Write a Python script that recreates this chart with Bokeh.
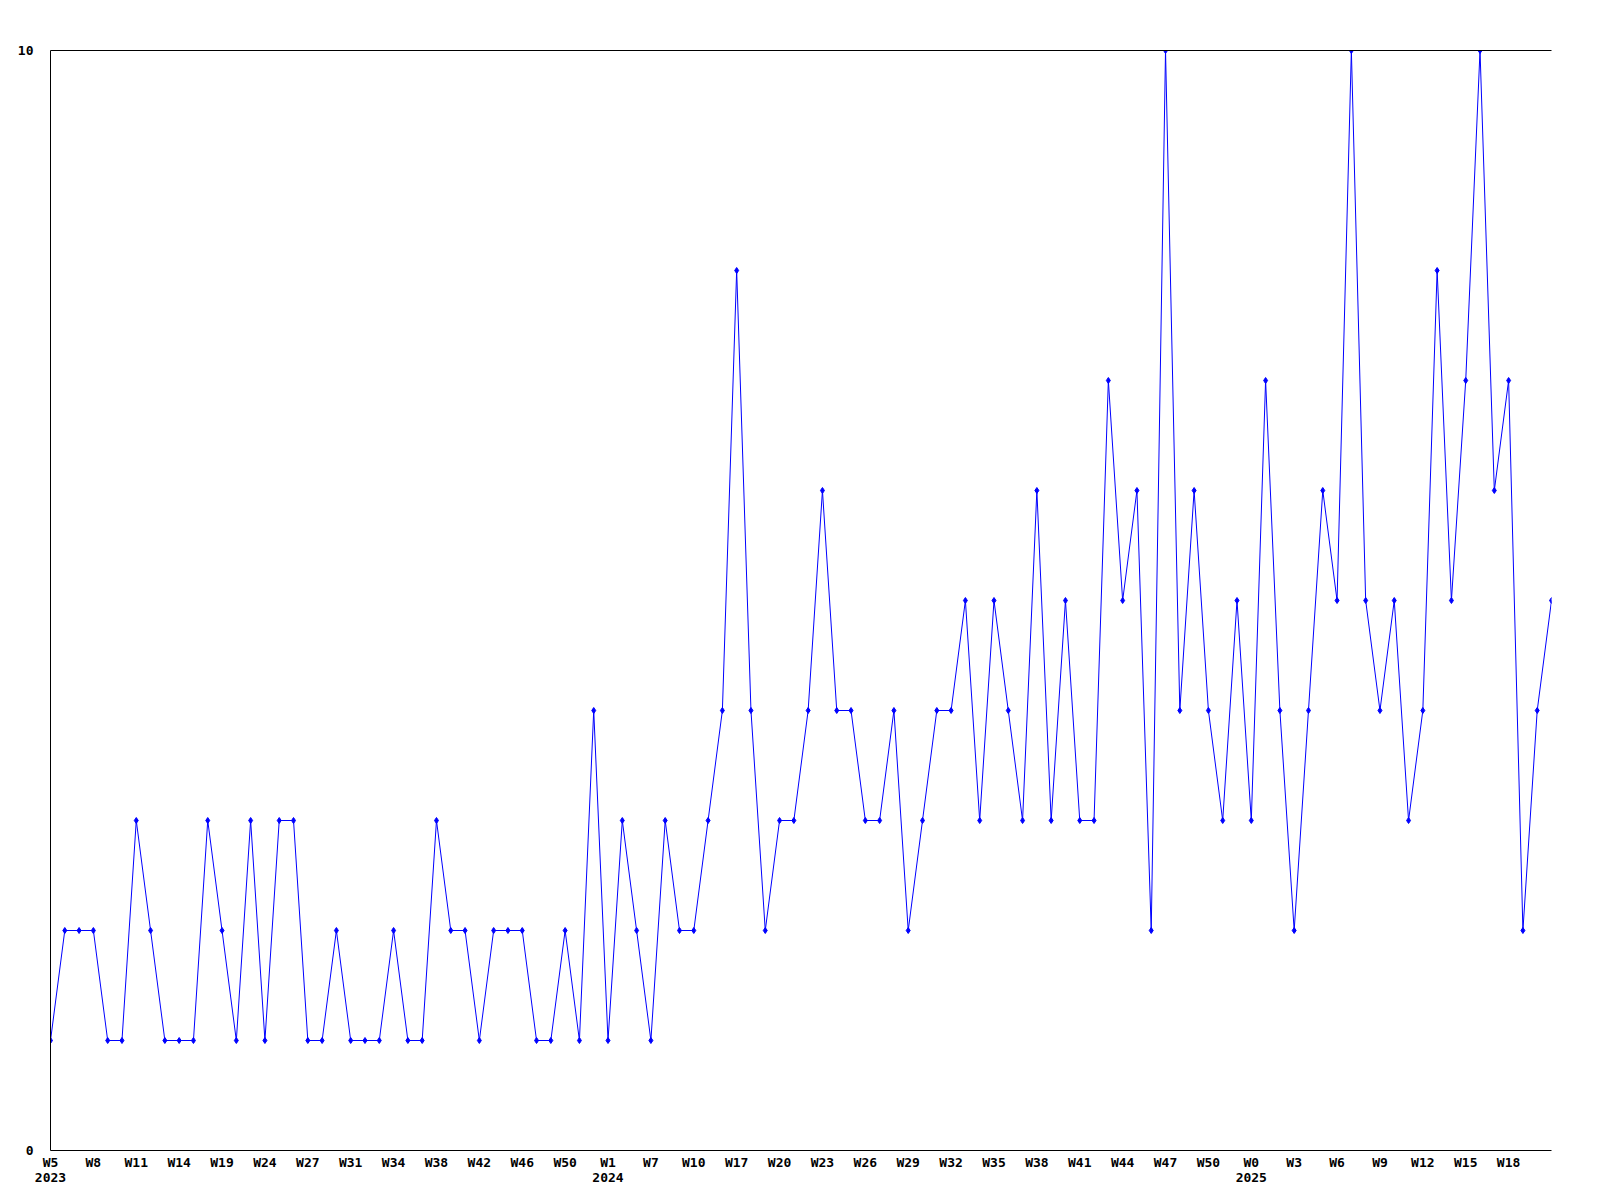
from bokeh.plotting import figure
from bokeh.models import Range1d, FixedTicker, LinearAxis, ColumnDataSource
from bokeh.embed import file_html
from bokeh.resources import INLINE

# Weekly counts, one per week (106 points)
values = [
    1, 2, 2, 2, 1, 1, 3, 2, 1, 1, 1, 3, 2, 1, 3, 1, 3, 3, 1, 1,
    2, 1, 1, 1, 2, 1, 1, 3, 2, 2, 1, 2, 2, 2, 1, 1, 2, 1, 4, 1,
    3, 2, 1, 3, 2, 2, 3, 4, 8, 4, 2, 3, 3, 4, 6, 4, 4, 3, 3, 4,
    2, 3, 4, 4, 5, 3, 5, 4, 3, 6, 3, 5, 3, 3, 7, 5, 6, 2, 10, 4,
    6, 4, 3, 5, 3, 7, 4, 2, 4, 6, 5, 10, 5, 4, 5, 3, 4, 8, 5, 7,
    10, 6, 7, 2, 4, 5,
]
x_index = list(range(len(values)))

# Tick labels (every third week)
tick_weeks = [
    "W5", "W8", "W11", "W14", "W19", "W24", "W27", "W31", "W34", "W38", "W42", "W46", "W50",
    "W1", "W7", "W10", "W17", "W20", "W23", "W26", "W29", "W32", "W35", "W38", "W41", "W44", "W47", "W50",
    "W0", "W3", "W6", "W9", "W12", "W15", "W18",
]
tick_years = {0: "2023", 13: "2024", 28: "2025"}
tick_step = 3

y_ticks = [0, 10]

FONT = "DejaVu Sans Mono"

p = figure(
    output_backend="svg", toolbar_location=None,
    frame_width=1501, frame_height=1100,
    min_border_left=50, min_border_top=50, min_border_right=30, min_border_bottom=34,
    x_range=Range1d(0, len(values) - 1), y_range=Range1d(min(y_ticks), max(y_ticks)),
    background_fill_color="white", border_fill_color="white",
)
p.outline_line_color = None
p.grid.visible = False

src = ColumnDataSource(dict(x=x_index, y=values))
p.line("x", "y", source=src, line_color="#0000ff", line_width=1)
p.scatter("x", "y", source=src, marker="diamond", size=6, fill_color="#0000ff", line_color="#0000ff")

tick_pos = [i * tick_step for i in range(len(tick_weeks))]
overrides = {}
for i, (pos, wk) in enumerate(zip(tick_pos, tick_weeks)):
    overrides[pos] = wk + ("\n" + tick_years[i] if i in tick_years else "")

xa = p.xaxis[0]
xa.ticker = FixedTicker(ticks=tick_pos)
xa.major_label_overrides = overrides
xa.major_tick_out = 0
xa.major_tick_in = 0
xa.minor_tick_out = 0
xa.minor_tick_in = 0
xa.major_label_standoff = 4
xa.major_label_text_font = FONT
xa.major_label_text_font_style = "bold"
xa.major_label_text_font_size = "13px"
xa.major_label_text_color = "black"
xa.major_label_text_line_height = 1.0
xa.axis_line_color = "black"

ya = p.yaxis[0]
ya.ticker = FixedTicker(ticks=y_ticks)
ya.major_tick_out = 0
ya.major_tick_in = 0
ya.minor_tick_out = 0
ya.minor_tick_in = 0
ya.major_label_standoff = 17
ya.major_label_text_font = FONT
ya.major_label_text_font_style = "bold"
ya.major_label_text_font_size = "13px"
ya.major_label_text_color = "black"
ya.axis_line_color = "black"

top = LinearAxis(ticker=FixedTicker(ticks=[]), major_tick_out=0, major_tick_in=0,
                 minor_tick_out=0, minor_tick_in=0, major_label_text_font_size="0px",
                 major_label_standoff=0, axis_line_color="black")
p.add_layout(top, "above")

open("out.html", "w").write(file_html(p, INLINE))
